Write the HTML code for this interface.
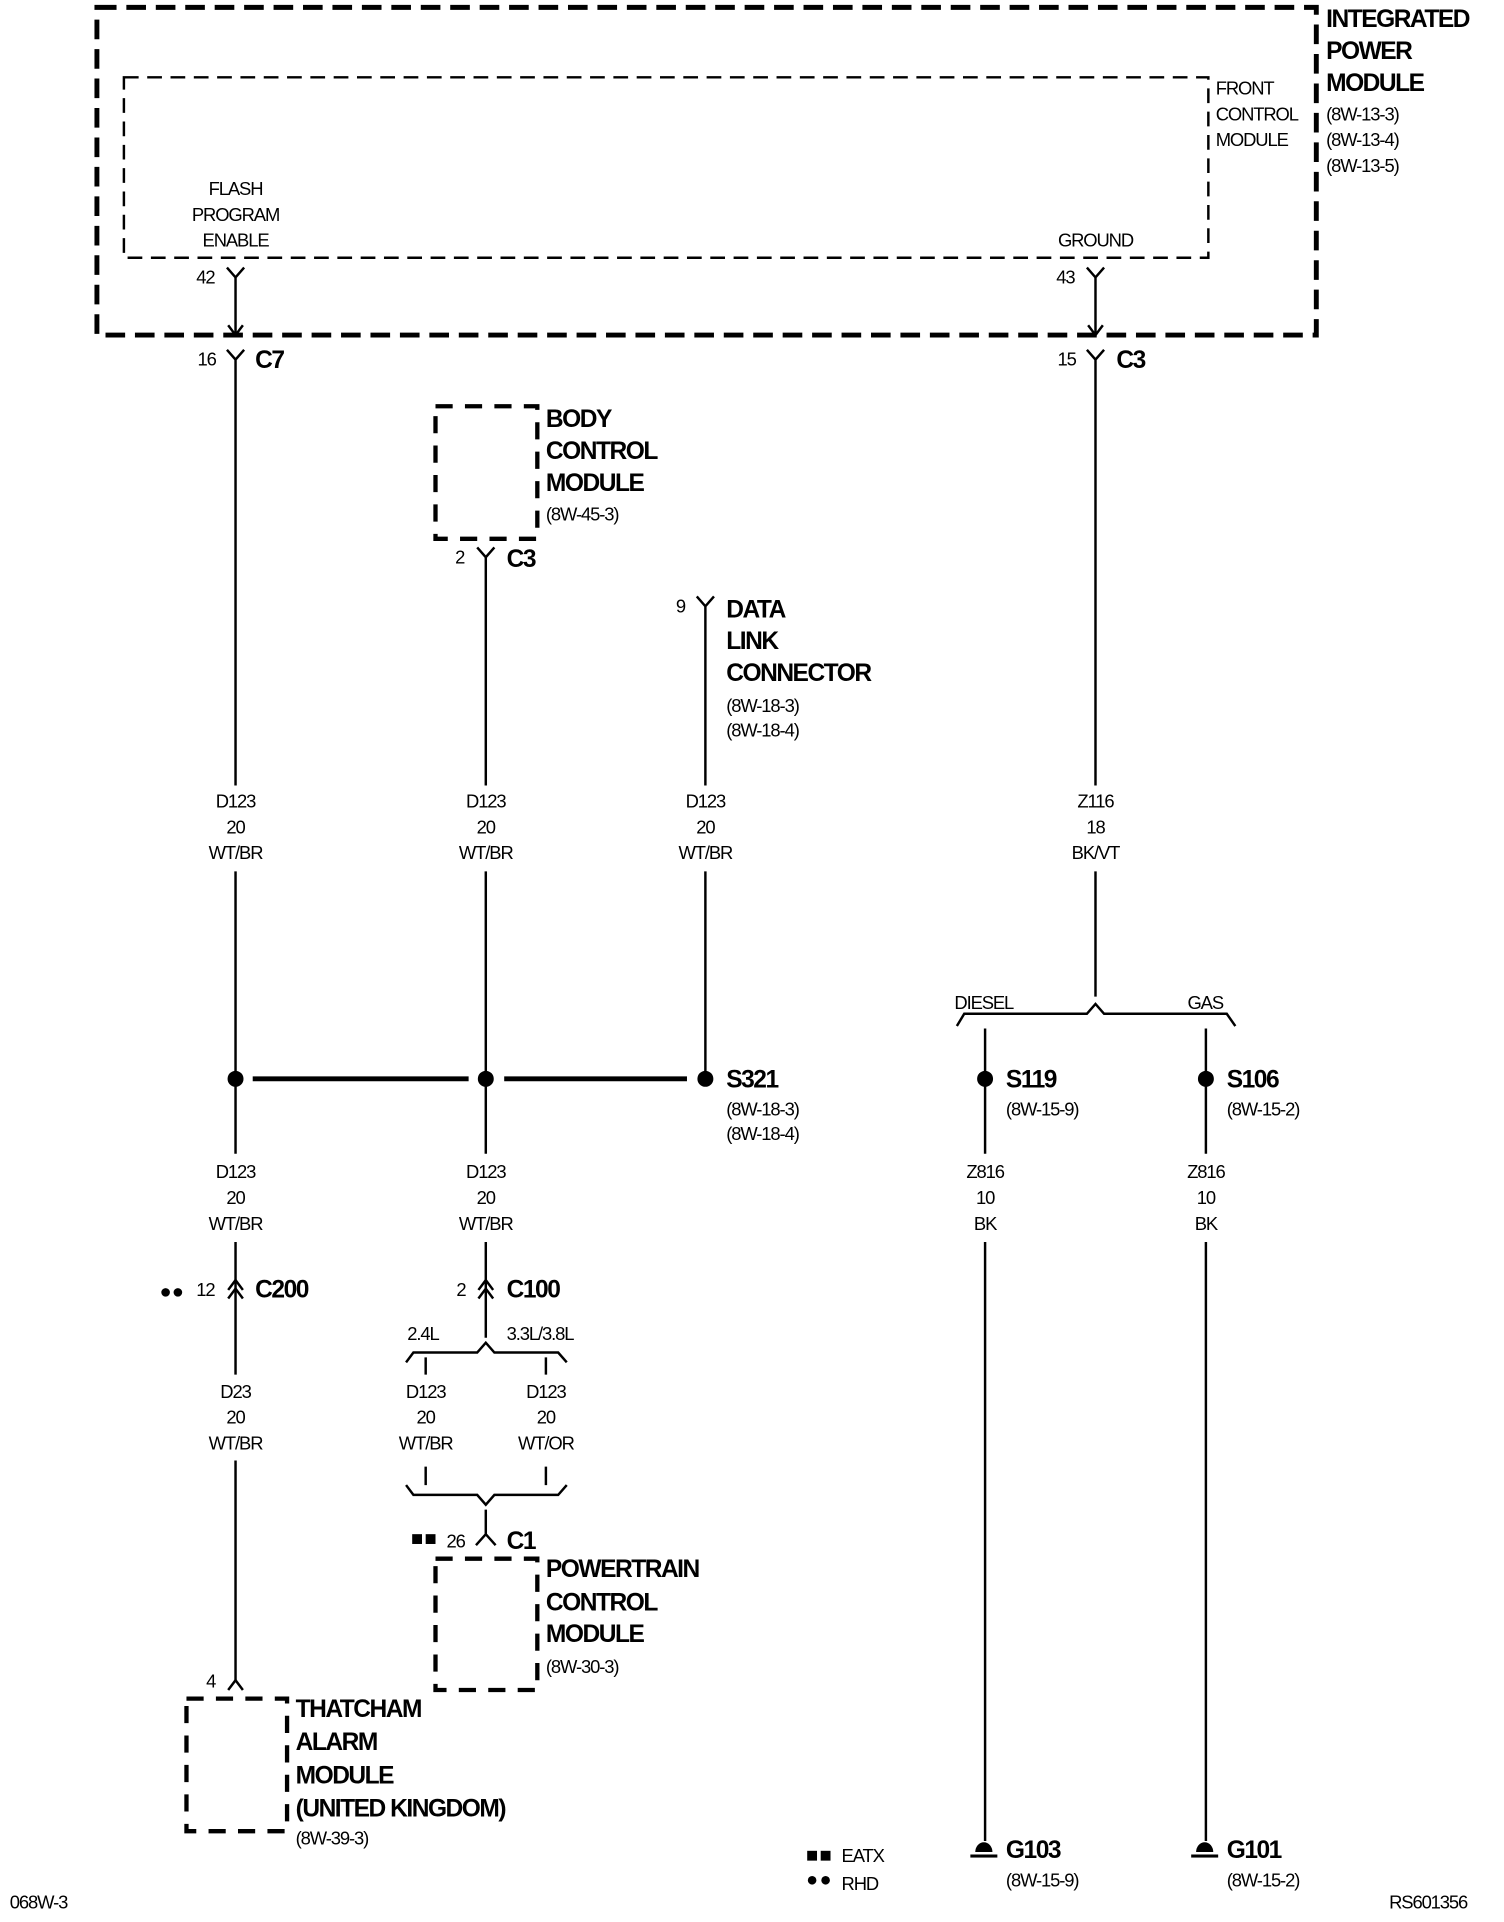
<!DOCTYPE html>
<html><head><meta charset="utf-8"><style>
html,body{margin:0;padding:0;background:#fff;}
svg{display:block;}
text{font-family:"Liberation Sans",sans-serif;fill:#000;}
.n{font-size:15px;letter-spacing:-0.9px;}
.b{font-size:20px;font-weight:bold;letter-spacing:-1.2px;}
.c{text-anchor:middle;}
</style></head><body>
<svg width="1504" height="1922" viewBox="0 0 1226 1566" preserveAspectRatio="none" xmlns="http://www.w3.org/2000/svg">
<g fill="none" stroke="#000">
<rect x="79" y="6" width="994" height="267" stroke-width="4" stroke-dasharray="16,8"/>
<rect x="101" y="63" width="884" height="147" stroke-width="2" stroke-dasharray="12,7"/>
<rect x="355" y="331" width="83" height="108" stroke-width="3.5" stroke-dasharray="14,10"/>
<rect x="355" y="1270" width="83" height="107" stroke-width="3.5" stroke-dasharray="14,10"/>
<rect x="152" y="1384" width="82" height="108" stroke-width="3.5" stroke-dasharray="14,10"/>
</g>
<g fill="none" stroke="#000" stroke-width="2">
<path d="M185 218 L192 226 L199 218 M192 226 V273 M186 265 L192 273 L198 265"/>
<path d="M185 285 L192 293 L199 285 M192 293 V640 M192 710 V940 M192 1012 V1120 M192 1190 V1370"/>
<path d="M186 1051 L192 1043 L198 1051 M186 1058 L192 1050 L198 1058"/>
<path d="M186 1377 L192 1369 L198 1377"/>
<path d="M886 218 L893 226 L900 218 M893 226 V273 M887 265 L893 273 L899 265"/>
<path d="M886 285 L893 293 L900 285 M893 293 V640 M893 710 V812"/>
<path d="M780 836 L786 826 L886 826 L893 818 L900 826 L1000 826 L1007 836"/>
<path d="M803 838 V873 M983 838 V873"/>
<path d="M803 885 V940 M803 1012 V1500 M983 885 V940 M983 1012 V1500"/>
<path d="M389 446 L396 454 L403 446 M396 454 V640 M396 710 V940 M396 1012 V1090"/>
<path d="M390 1051 L396 1043 L402 1051 M390 1058 L396 1050 L402 1058"/>
<path d="M331 1110 L337 1102 L389 1102 L396 1094 L403 1102 L455 1102 L462 1110"/>
<path d="M347 1106 V1120 M445 1106 V1120 M347 1195 V1210 M445 1195 V1210"/>
<path d="M331 1210 L337 1218 L389 1218 L396 1226 L403 1218 L455 1218 L462 1210"/>
<path d="M396 1230 V1250 M388 1259 L396 1250 L404 1259"/>
<path d="M568 486 L575 494 L582 486 M575 494 V640 M575 710 V873"/>
</g>
<g stroke="#000" stroke-width="4"><line x1="206" y1="879" x2="382" y2="879"/><line x1="411" y1="879" x2="560" y2="879"/></g>
<g fill="#000">
<circle cx="192" cy="879" r="6.5"/><circle cx="396" cy="879" r="6.5"/><circle cx="575" cy="879" r="6.5"/>
<circle cx="803" cy="879" r="6.5"/><circle cx="983" cy="879" r="6.5"/>
<circle cx="135" cy="1053" r="3.5"/><circle cx="145" cy="1053" r="3.5"/>
<rect x="336" y="1250" width="8" height="8"/><rect x="347" y="1250" width="8" height="8"/>
<rect x="658" y="1508" width="8" height="8"/><rect x="669" y="1508" width="8" height="8"/>
<circle cx="662" cy="1532" r="3.5"/><circle cx="673" cy="1532" r="3.5"/>
<path d="M795 1509 A7 8 0 0 1 809 1509 Z"/><rect x="791" y="1511" width="22" height="2.5"/>
<path d="M975 1509 A7 8 0 0 1 989 1509 Z"/><rect x="971" y="1511" width="22" height="2.5"/>
</g>
<text class="b" x="1081" y="22">INTEGRATED</text>
<text class="b" x="1081" y="48">POWER</text>
<text class="b" x="1081" y="74">MODULE</text>
<text class="n" x="1081" y="98">(8W-13-3)</text>
<text class="n" x="1081" y="119">(8W-13-4)</text>
<text class="n" x="1081" y="140">(8W-13-5)</text>
<text class="n" x="991" y="77">FRONT</text>
<text class="n" x="991" y="98">CONTROL</text>
<text class="n" x="991" y="119">MODULE</text>
<text class="n c" x="192" y="159">FLASH</text>
<text class="n c" x="192" y="180">PROGRAM</text>
<text class="n c" x="192" y="201">ENABLE</text>
<text class="n c" x="893" y="201">GROUND</text>
<text class="n" x="160" y="231">42</text>
<text class="n" x="861" y="231">43</text>
<text class="n" x="161" y="298">16</text>
<text class="b" x="208" y="300">C7</text>
<text class="n" x="862" y="298">15</text>
<text class="b" x="910" y="300">C3</text>
<text class="b" x="445" y="348">BODY</text>
<text class="b" x="445" y="374">CONTROL</text>
<text class="b" x="445" y="400">MODULE</text>
<text class="n" x="445" y="424">(8W-45-3)</text>
<text class="n" x="371" y="459">2</text>
<text class="b" x="413" y="462">C3</text>
<text class="n" x="551" y="499">9</text>
<text class="b" x="592" y="503">DATA</text>
<text class="b" x="592" y="529">LINK</text>
<text class="b" x="592" y="555">CONNECTOR</text>
<text class="n" x="592" y="580">(8W-18-3)</text>
<text class="n" x="592" y="600">(8W-18-4)</text>
<text class="n c" x="192" y="658">D123</text><text class="n c" x="192" y="679">20</text><text class="n c" x="192" y="700">WT/BR</text>
<text class="n c" x="396" y="658">D123</text><text class="n c" x="396" y="679">20</text><text class="n c" x="396" y="700">WT/BR</text>
<text class="n c" x="575" y="658">D123</text><text class="n c" x="575" y="679">20</text><text class="n c" x="575" y="700">WT/BR</text>
<text class="n c" x="893" y="658">Z116</text><text class="n c" x="893" y="679">18</text><text class="n c" x="893" y="700">BK/VT</text>
<text class="n c" x="192" y="960">D123</text><text class="n c" x="192" y="981">20</text><text class="n c" x="192" y="1002">WT/BR</text>
<text class="n c" x="396" y="960">D123</text><text class="n c" x="396" y="981">20</text><text class="n c" x="396" y="1002">WT/BR</text>
<text class="n c" x="803" y="960">Z816</text><text class="n c" x="803" y="981">10</text><text class="n c" x="803" y="1002">BK</text>
<text class="n c" x="983" y="960">Z816</text><text class="n c" x="983" y="981">10</text><text class="n c" x="983" y="1002">BK</text>
<text class="n c" x="192" y="1139">D23</text><text class="n c" x="192" y="1160">20</text><text class="n c" x="192" y="1181">WT/BR</text>
<text class="n c" x="347" y="1139">D123</text><text class="n c" x="347" y="1160">20</text><text class="n c" x="347" y="1181">WT/BR</text>
<text class="n c" x="445" y="1139">D123</text><text class="n c" x="445" y="1160">20</text><text class="n c" x="445" y="1181">WT/OR</text>
<text class="n" x="778" y="822">DIESEL</text>
<text class="n" x="968" y="822">GAS</text>
<text class="b" x="592" y="886">S321</text>
<text class="n" x="592" y="909">(8W-18-3)</text>
<text class="n" x="592" y="929">(8W-18-4)</text>
<text class="b" x="820" y="886">S119</text>
<text class="n" x="820" y="909">(8W-15-9)</text>
<text class="b" x="1000" y="886">S106</text>
<text class="n" x="1000" y="909">(8W-15-2)</text>
<text class="n" x="160" y="1056">12</text>
<text class="b" x="208" y="1057">C200</text>
<text class="n" x="372" y="1056">2</text>
<text class="b" x="413" y="1057">C100</text>
<text class="n" x="332" y="1092">2.4L</text>
<text class="n" x="413" y="1092">3.3L/3.8L</text>
<text class="n" x="364" y="1261">26</text>
<text class="b" x="413" y="1262">C1</text>
<text class="b" x="445" y="1285">POWERTRAIN</text>
<text class="b" x="445" y="1312">CONTROL</text>
<text class="b" x="445" y="1338">MODULE</text>
<text class="n" x="445" y="1363">(8W-30-3)</text>
<text class="n" x="168" y="1375">4</text>
<text class="b" x="241" y="1399">THATCHAM</text>
<text class="b" x="241" y="1426">ALARM</text>
<text class="b" x="241" y="1453">MODULE</text>
<text class="b" x="241" y="1480">(UNITED KINGDOM)</text>
<text class="n" x="241" y="1503">(8W-39-3)</text>
<text class="b" x="820" y="1514">G103</text>
<text class="n" x="820" y="1537">(8W-15-9)</text>
<text class="b" x="1000" y="1514">G101</text>
<text class="n" x="1000" y="1537">(8W-15-2)</text>
<text class="n" x="686" y="1517">EATX</text>
<text class="n" x="686" y="1540">RHD</text>
<text class="n" x="8" y="1555">068W-3</text>
<text class="n" x="1196" y="1555" text-anchor="end">RS601356</text>
</svg>
</body></html>
